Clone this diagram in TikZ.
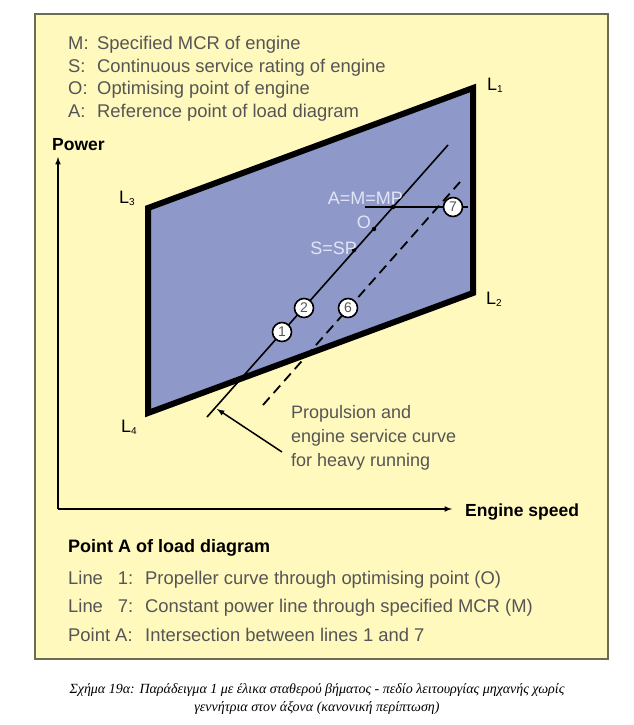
\documentclass[tikz,border=0pt]{standalone}
\usepackage{fontspec}
\setmainfont{Liberation Sans}
\newfontfamily\capfont{Liberation Serif}
\usetikzlibrary{calc}
\usetikzlibrary{arrows}
\tikzset{>=latex}
\definecolor{paper}{HTML}{FFF9BE}
\definecolor{frameline}{HTML}{6E6C50}
\definecolor{field}{HTML}{8E99C9}
\definecolor{greytext}{HTML}{555555}
\definecolor{pale}{HTML}{E2E5F5}
\newcommand{\Lsub}[1]{L\raisebox{-2.5pt}{\fontsize{10}{10}\selectfont #1}}
\tikzstyle{legtext} = [anchor=base west, inner sep=0pt, text=greytext,
    font=\fontsize{18.4}{20}\selectfont]
\tikzstyle{axlabel} = [anchor=base west, inner sep=0pt,
    font=\bfseries\fontsize{17.5}{20}\selectfont]
\tikzstyle{corner} = [anchor=base west, inner sep=0pt, font=\fontsize{18}{20}\selectfont]
\tikzstyle{marker} = [draw, fill=white, circle, line width=1.6pt, minimum size=19pt,
    inner sep=0pt, text=greytext, font=\fontsize{14}{14}\selectfont]
\tikzstyle{dot} = [circle, fill=black, inner sep=0pt, minimum size=4.5pt]
\tikzstyle{inlabel} = [anchor=base east, inner sep=0pt, text=pale,
    font=\fontsize{18}{20}\selectfont]
\begin{document}
\begin{tikzpicture}[x=1pt, y=-1pt]
    \useasboundingbox[fill=white] (0,0) rectangle (634,725);
    % We start with the frame and the legend
    \draw [frameline, line width=2.5pt, fill=paper] (35,14) rectangle (608,659);
    \node [legtext] (legM) at (68,50) {\makebox[29pt][l]{M:}Specified MCR of engine};
    \node [legtext] (legS) at (68,72) {\makebox[29pt][l]{S:}Continuous service rating of engine};
    \node [legtext] (legO) at (68,94) {\makebox[29pt][l]{O:}Optimising point of engine};
    \node [legtext] (legA) at (68,117) {\makebox[29pt][l]{A:}Reference point of load diagram};

    % The load diagram field
    \coordinate (cL1) at (473,88);
    \coordinate (cL2) at (473,293);
    \coordinate (cL4) at (148,413);
    \coordinate (cL3) at (148,208);
    \draw [line width=6pt, fill=field, line join=miter] (cL1) -- (cL2) -- (cL4) -- (cL3) -- cycle;
    \node [corner] (L1) at (487,90) {\Lsub{1}};
    \node [corner] (L2) at (486,304) {\Lsub{2}};
    \node [corner] (L3) at (119,203) {\Lsub{3}};
    \node [corner] (L4) at (121,432) {\Lsub{4}};

    % Axes
    \coordinate (origin) at (58,509);
    \coordinate (ytop) at (58,157);
    \coordinate (xend) at (452,509);
    \draw [->, line width=1.5pt] (origin) -- (ytop);
    \draw [->, line width=1.5pt] (origin) -- (xend);
    \node [axlabel] (power) at (52,150) {Power};
    \node [axlabel] (speed) at (465,516) {Engine speed};

    % Propeller curve 1 with its points, and line 6 for heavy running
    \coordinate (p1lo) at (207,417);
    \coordinate (p1hi) at (448,145);
    \coordinate (p6lo) at (263,405);
    \coordinate (p6hi) at (460,182);
    \draw [line width=1.6pt] (p1lo) -- (p1hi);
    \draw [line width=1.8pt, dash pattern=on 10pt off 6pt] (p6lo) -- (p6hi);
    \node [dot] (A) at (393,207) {};
    \node [dot] (O) at (374,229) {};
    \node [dot] (S) at (354,250) {};
    \node [inlabel] (Alab) at (403,204) {A=M=MP};
    \node [inlabel] (Olab) at (371,228) {O};
    \node [inlabel] (Slab) at (357,254) {S=SP};

    % Constant power line 7
    \coordinate (p7lo) at (365,207);
    \coordinate (p7hi) at (468,207);
    \draw [line width=1.6pt] (p7lo) -- (p7hi);
    \node [marker] (c1) at (282,332) {1};
    \node [marker] (c2) at (304,308) {2};
    \node [marker] (c6) at (348,308) {6};
    \node [marker] (c7) at (453,207) {7};

    % The note with its leader
    \node [anchor=north west, inner sep=0pt, align=left, text=greytext,
        font=\fontsize{18}{24}\selectfont] (prop) at (291,405)
        {Propulsion and\\engine service curve\\for heavy running};
    \coordinate (leadtail) at (282,452);
    \coordinate (leadtip) at (217,409);
    \draw [->, line width=1.5pt] (leadtail) -- (leadtip);

    % Text below the diagram
    \node [axlabel, font=\bfseries\fontsize{18}{20}\selectfont] (pointA) at (68,552) {Point A of load diagram};
    \node [legtext] (line1) at (68,584) {\makebox[77pt][l]{Line\hspace{15pt}1:}Propeller curve through optimising point (O)};
    \node [legtext] (line7) at (68,612) {\makebox[77pt][l]{Line\hspace{15pt}7:}Constant power line through specified MCR (M)};
    \node [legtext] (lineA) at (68,641) {\makebox[77pt][l]{Point A:}Intersection between lines 1 and 7};

    % Caption
    \node [anchor=north, inner sep=0pt, align=center,
        font=\capfont\itshape\fontsize{14}{18}\selectfont] (caption) at (317,683)
        {Σχήμα 19α: Παράδειγμα 1 με έλικα σταθερού βήματος - πεδίο λειτουργίας μηχανής χωρίς\\
        γεννήτρια στον άξονα (κανονική περίπτωση)};
\end{tikzpicture}
\end{document}
